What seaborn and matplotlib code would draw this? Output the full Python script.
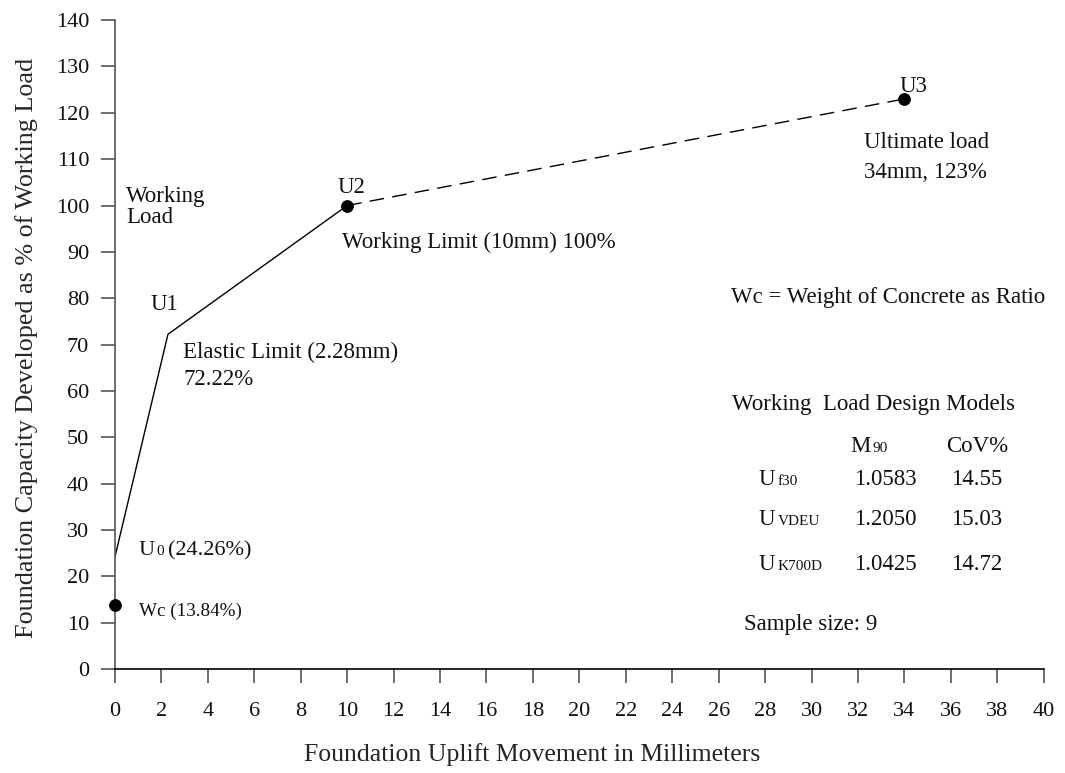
import matplotlib
matplotlib.use("Agg")
import matplotlib.pyplot as plt
import matplotlib.transforms as mtransforms
import seaborn as sns
import pandas as pd

# Load-displacement curve points (mm, % of working load)
stage_names = ["U0", "U1", "U2", "U3"]
movement_mm = [0.0, 2.28, 10.0, 34.0]
capacity_pct = [24.26, 72.22, 100.0, 123.0]

# Weight-of-concrete point
wc_movement = [0.0]
wc_capacity = [13.84]

# Working-load design model table
model_names = ["f30", "VDEU", "K700D"]
model_m90 = ["1.0583", "1.2050", "1.0425"]
model_cov = ["14.55", "15.03", "14.72"]
sample_size = 9

x_ticks = list(range(0, 41, 2))
y_ticks = list(range(0, 141, 10))

sns.set_theme(style="ticks")
plt.rcParams["font.family"] = ["Liberation Serif", "DejaVu Serif"]

fig = plt.figure(figsize=(10.65, 7.73), dpi=100)
ax = fig.add_axes([0.108, 0.1345, 0.872, 0.8395])

curve = pd.DataFrame({"stage": stage_names, "x": movement_mm, "y": capacity_pct})
elastic = curve.iloc[0:3]
plastic = curve.iloc[2:4]

sns.lineplot(data=elastic, x="x", y="y", ax=ax, color="black", lw=1.0,
             sort=False, estimator=None)
sns.lineplot(data=plastic, x="x", y="y", ax=ax, color="black", lw=1.0,
             sort=False, estimator=None, linestyle=(0, (10.5, 6)))

marked = curve.iloc[2:4]
sns.scatterplot(data=marked, x="x", y="y", ax=ax, color="black", s=72,
                edgecolor="black", zorder=5, clip_on=False)
sns.scatterplot(x=wc_movement, y=wc_capacity, ax=ax, color="black", s=72,
                edgecolor="black", zorder=5, clip_on=False)

ax.set_xlim(0, 40)
ax.set_ylim(0, 140)
ax.set_xticks(x_ticks)
ax.set_yticks(y_ticks)
ax.tick_params(axis="both", labelsize=16, length=10, width=1.2,
               direction="out", color="#555555", labelcolor="#111111")
ax.tick_params(axis="x", pad=13.5)
ax.tick_params(axis="y", pad=8.6)
sns.despine(ax=ax)
ax.spines["left"].set_color("#555555")
ax.spines["left"].set_linewidth(1.2)
ax.spines["bottom"].set_color("black")
ax.spines["bottom"].set_linewidth(1.2)

ax.set_xlabel("Foundation Uplift Movement in Millimeters", fontsize=18.5)
ax.set_ylabel("Foundation Capacity Developed as % of Working Load", fontsize=18.8)
ax.xaxis.label.set_va("baseline")
ax.yaxis.label.set_va("baseline")
ax.xaxis.set_label_coords(0.4494, -0.141)
ax.yaxis.set_label_coords(-0.0883, 0.495)

fs = 16.5
sub_fs = 11


def note(x, y, s, size=fs, dx=0.0):
    trans = mtransforms.offset_copy(ax.transData, fig=fig, x=dx, y=0, units="points")
    ax.text(x, y, s, fontsize=size, ha="left", va="baseline", color="#111111",
            transform=trans)


def sub_note(x, y, main, sub, sub_dx, tail="", tail_dx=0.0, size=fs):
    note(x, y, main, size=size)
    note(x, y, sub, size=sub_fs, dx=sub_dx)
    if tail:
        note(x, y, tail, size=size, dx=tail_dx)


# Curve annotations
note(0.47, 100.7, "Working")
note(0.47, 96.3, "Load")
note(1.51, 77.4, stage_names[1])
note(2.93, 67.0, f"Elastic Limit ({movement_mm[1]:.2f}mm)")
note(2.93, 61.2, f"{capacity_pct[1]:.2f}%")
note(9.57, 102.8, stage_names[2])
note(9.78, 90.9, f"Working Limit ({movement_mm[2]:.0f}mm) {capacity_pct[2]:.0f}%")
note(33.79, 124.4, stage_names[3])
note(32.24, 112.5, "Ultimate load")
note(32.24, 106.0, f"{movement_mm[3]:.0f}mm, {capacity_pct[3]:.0f}%")
sub_note(1.03, 24.6, "U", "0", 12.4, tail=f"({capacity_pct[0]:.2f}%)", tail_dx=20.9,
         size=16)
note(1.03, 11.4, f"Wc ({wc_capacity[0]:.2f}%)", size=13.8)

# Legend-style notes and model table
note(26.51, 78.9, "Wc = Weight of Concrete as Ratio")
note(26.59, 55.8, "Working  Load Design Models")
sub_note(31.68, 46.8, "M", "90", 15.8)
note(35.78, 46.8, "CoV%")
row_y = [39.7, 31.0, 21.3]
for name, m90, cov, yy in zip(model_names, model_m90, model_cov, row_y):
    sub_note(27.72, yy, "U", name, 13.7)
    note(31.81, yy, m90)
    note(36.03, yy, cov)
note(27.07, 8.4, f"Sample size: {sample_size}")

fig.savefig("out.png", dpi=100, facecolor="white")
